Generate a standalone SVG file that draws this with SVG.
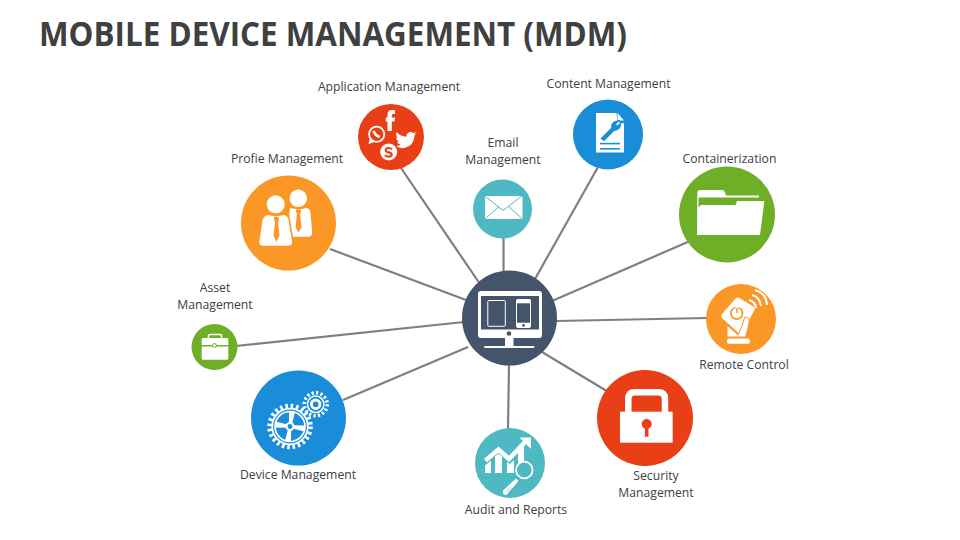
<svg xmlns="http://www.w3.org/2000/svg" width="960" height="540" viewBox="0 0 960 540">
<style>
.t{font-family:"Open Sans","Liberation Sans",sans-serif;font-size:12.2px;fill:#404040;text-anchor:middle}
.h{font-family:"Open Sans","Liberation Sans",sans-serif;font-size:34px;font-weight:700;fill:#404040}
.w{fill:#fff}
.ws{fill:none;stroke:#fff}
.c line{stroke:#7f7f7f;stroke-width:2.2}
</style>
<rect width="960" height="540" fill="#fff"/>
<text class="h" x="39" y="46" textLength="588" lengthAdjust="spacingAndGlyphs">MOBILE DEVICE MANAGEMENT (MDM)</text>
<g class="c" id="connectors">
<line x1="401" y1="168" x2="480" y2="284"/>
<line x1="598" y1="167" x2="535" y2="279"/>
<line x1="503.500" y1="237" x2="503.500" y2="272"/>
<line x1="690" y1="241" x2="552" y2="301"/>
<line x1="330" y1="249" x2="466" y2="300"/>
<line x1="236" y1="346" x2="464" y2="322"/>
<line x1="343" y1="400" x2="468" y2="347"/>
<line x1="508" y1="429" x2="509" y2="364"/>
<line x1="610" y1="393" x2="542" y2="352"/>
<line x1="707" y1="318" x2="556" y2="321"/>
</g>

<g id="center">
<circle cx="509.500" cy="318" r="47.500" fill="#44546a"/>
<path class="w" fill-rule="evenodd" d="M481 291h58q3 0 3 3v41q0 3-3 3h-58q-3 0-3-3v-41q0-3 3-3zM481 296v33.500h58v-33.500z"/>
<rect class="w" x="505" y="337" width="8.500" height="10"/>
<rect class="w" x="484.300" y="346" width="50" height="2"/>
<circle cx="509" cy="333.500" r="2.300" fill="#44546a"/>
<rect x="487.800" y="300.500" width="17.500" height="25.800" rx="1" fill="none" stroke="#fff" stroke-width="1"/>
<rect class="w" x="516" y="299" width="15" height="29" rx="2"/>
<rect x="517" y="303.300" width="13" height="19.400" fill="#44546a"/>
<circle cx="523.500" cy="325.400" r="1.400" fill="#44546a"/>
</g>

<g id="application-management">
<circle cx="391" cy="137" r="33" fill="#e83f16"/>
<path class="w" d="M387.500 131V121.500H385.700V117.500H387.500V114.500Q387.500 110 392 110H395V114H393Q391.800 114 391.800 115.500V117.500H395L394.500 121.500H391.800V131z"/>
<path class="w" d="M417 133.500l-3 1.200 2-2.800-3 1.200q-2.500-1.800-4.800-.4-2.200 1.400-1.700 4-5.500-.3-10-4.500-1.300 3.400 1.500 6l-2-.6q.2 2.900 3 4l-2 .1q1 2.500 3.800 2.900-2.400 1.800-4.800 1.400 4 3 9 1.800 9-2.200 9.600-12.600z"/>
<circle cx="376.700" cy="134.300" r="7.600" fill="none" stroke="#fff" stroke-width="1.800"/>
<path class="w" d="M368.500 144l1.500-6 4 4.300z"/>
<path class="ws" stroke-width="2.600" d="M373.800 130.800q.4 4 6 6.200"/>
<circle class="w" cx="388.700" cy="152" r="8.500"/>
<path d="M392 149.300q-1.500-1.500-3.500-1.300-3 .3-2.800 2.300.2 1.600 3 2 3 .5 3 2.300 0 2-3 2.100-2.500 0-3.800-1.600" fill="none" stroke="#e83f16" stroke-width="2.200"/>
</g>

<g id="content-management">
<circle cx="608" cy="134.500" r="35" fill="#1a8dd8"/>
<path class="w" d="M596 113h20.500l.5 4.500q.2 5.500 5 5.800h2v29.200h-28z"/>
<path class="w" d="M617.500 113l6.500 7.500h-4.500q-2 0-2-2z"/>
<path d="M601.500 138.500l10.500-10.500q-.8-5 4-6.500l2-.4-3 3.200 2 2.300 3.300-2.800q.2 5.800-6.800 6.600l-9.500 9.800z" fill="#1a8dd8" stroke="#1a8dd8" stroke-width="1.500"/>
<rect x="600" y="142.800" width="20" height="1.600" fill="#1a8dd8"/>
<rect x="600" y="148" width="20" height="1.600" fill="#1a8dd8"/>
</g>

<g id="email-management">
<circle cx="502.500" cy="209" r="29.500" fill="#4fb9c3"/>
<rect class="w" x="485" y="196" width="37.500" height="23" rx="1"/>
<path d="M485.500 196.500l17.500 14 19-14.500M485.500 218.500l13.500-12M522 218.500l-13.500-12" fill="none" stroke="#4fb9c3" stroke-width="1"/>
</g>

<g id="containerization">
<circle cx="727" cy="214.500" r="48" fill="#6fae27"/>
<path class="w" d="M697.300 193q0-3 3-3h22q2 0 3 3l.5 2.500h33v5.500h5.500L760 235H697z"/>
<path d="M698.500 197.500H759V201H737l-1.500 4H701l-2.500 2.500z" fill="#6fae27"/>
</g>

<g id="profile-management">
<circle cx="288.500" cy="223" r="47.500" fill="#fb9726"/>
<circle class="w" cx="298.300" cy="198.300" r="8.700"/>
<path class="w" d="M290 208l8.300 1.500 8.700-1.500q3 1 3.500 5l1.700 19q0 4.500-3.500 4.700h-18q-4 0-3-3z"/>
<path d="M296 209.500h4.500l.5 2-1 2 1.500 14-3 5-3-5 1.500-14-1-2z" fill="#fb9726"/>
<circle cx="275.700" cy="204.300" r="11" fill="#fb9726"/>
<circle class="w" cx="275.700" cy="204.300" r="9"/>
<path d="M268 214l8 2 9-2q4.500 1 5 5l3.500 22q.5 5-4 5.500l-27 .2q-4.500-.5-3.500-6l3-21q.8-4.500 6-5.700z" fill="#fb9726"/>
<path class="w" d="M268 215l8 1.500 8-1.500q4 1 4.500 4.500l3.500 22q.3 4-3.500 4.300h-26q-3.800-.3-3-5l3-20.500q.7-4 5.500-5.300z"/>
<path d="M274 217h4.500l.5 2.500-1 2.500 1.500 13.500-3 6.500-3-6.500 1.500-13.500-1-2.500z" fill="#fb9726"/>
</g>

<g id="asset-management">
<circle cx="214.500" cy="347" r="23" fill="#6fae27"/>
<path class="ws" stroke-width="1.500" d="M208.500 338v-2.500q0-1 1.500-1h10q1.500 0 1.500 1v2.500"/>
<path class="w" d="M201.700 339.500q0-1.500 1.500-1.500h23.600q1.500 0 1.500 1.500v5.500h-26.600z"/>
<path class="w" d="M201.700 346.500h26.600v11.700q0 1.500-1.500 1.500h-23.600q-1.500 0-1.500-1.500z"/>
<circle cx="214.500" cy="345.500" r="1.900" fill="#fff" stroke="#6fae27" stroke-width="1"/>
</g>

<g id="device-management">
<circle cx="298.500" cy="418" r="47.500" fill="#1a8dd8"/>
<circle cx="290" cy="426.500" r="20.500" fill="none" stroke="#fff" stroke-width="4.500" stroke-dasharray="2.600 2.768"/>
<circle cx="290" cy="426.500" r="17.800" fill="none" stroke="#fff" stroke-width="1.800"/>
<circle cx="290" cy="426.500" r="15" fill="none" stroke="#fff" stroke-width="1.600"/>
<g class="w">
<path d="M-1.600-3L-3-15H3L1.600-3z" transform="translate(290 426.500) rotate(8)"/>
<path d="M-1.600-3L-3-15H3L1.600-3z" transform="translate(290 426.500) rotate(98)"/>
<path d="M-1.600-3L-3-15H3L1.600-3z" transform="translate(290 426.500) rotate(188)"/>
<path d="M-1.600-3L-3-15H3L1.600-3z" transform="translate(290 426.500) rotate(278)"/>
</g>
<circle class="w" cx="290" cy="426.500" r="4.500"/>
<circle cx="290" cy="426.500" r="2.400" fill="#1a8dd8"/>
<circle cx="315.700" cy="404.300" r="11.500" fill="none" stroke="#fff" stroke-width="3.500" stroke-dasharray="2.200 2.316"/>
<circle cx="315.700" cy="404.300" r="9" fill="#fff"/>
<circle cx="315.700" cy="404.300" r="7.500" fill="#1a8dd8"/>
<circle cx="315.700" cy="404.300" r="4.300" fill="none" stroke="#fff" stroke-width="2.800"/>
</g>

<g id="audit-and-reports">
<circle cx="510" cy="463" r="35" fill="#4fb9c3"/>
<path fill="none" stroke="#fff" stroke-width="4.500" d="M485.500 460.500L498.500 449.500L509 459L525 442"/>
<path class="w" d="M519.500 437.500H531V449z"/>
<path class="w" d="M485 465.500l6-5V473h-6zM495 456.500l3.500-3 3.500 3V473h-7zM507 462l3 2 4-4V473h-7zM518 452l6-6.500V470h-6z"/>
<circle cx="524.300" cy="470" r="8.300" fill="#4fb9c3" stroke="#fff" stroke-width="1.800"/>
<path class="w" d="M516 478.500l2.500 2.500-11 13q-2.500 1.800-4 0t0-4z"/>
<path d="M506 492l5-5.500M508 493l4.500-5" stroke="#4fb9c3" stroke-width=".6"/>
</g>

<g id="security-management">
<circle cx="645" cy="418" r="48" fill="#e83f16"/>
<path class="ws" stroke-width="6.500" d="M628.300 413v-14q0-6.700 6.700-6.700h23.300q6.700 0 6.700 6.700v14"/>
<rect class="w" x="620" y="411.700" width="52.700" height="31"/>
<circle cx="646.700" cy="424" r="5" fill="#e83f16"/>
<rect x="644.900" y="426" width="3.600" height="10.700" fill="#e83f16"/>
</g>

<g id="remote-control">
<circle cx="741" cy="319" r="35" fill="#fb9726"/>
<path class="w" d="M722 314L736 298q2-1 3.500 0L754 307q1.500 1 .5 3L742 333q-1 2-3 .5L722 318q-1.500-2 0-4z"/>
<circle cx="736.700" cy="313.300" r="5.800" fill="none" stroke="#fb9726" stroke-width="1.700"/>
<path d="M737 306.500v6" stroke="#fff" stroke-width="3"/>
<path d="M737 308v5" stroke="#fb9726" stroke-width="1.500"/>
<path class="w" d="M727 325L738 335L742 326L745 316.500L749.500 319L748 328L745.500 337H727z" stroke="#fb9726" stroke-width="1"/>
<rect class="w" x="727" y="338.500" width="23" height="5.300" rx="2.600"/>
<path class="ws" stroke-width="2" d="M749 300q6 1.500 7 8M752 295q8 2 9 11M755 290q11 3 12 15"/>
</g>

<text class="t" x="389" y="91">Application Management</text>
<text class="t" x="608.500" y="88">Content Management</text>
<text class="t" x="503" y="147">Email</text>
<text class="t" x="503" y="164">Management</text>
<text class="t" x="729.500" y="163">Containerization</text>
<text class="t" x="287" y="163">Profie Management</text>
<text class="t" x="215" y="292">Asset</text>
<text class="t" x="215" y="309">Management</text>
<text class="t" x="744" y="369">Remote Control</text>
<text class="t" x="298" y="479">Device Management</text>
<text class="t" x="516" y="514">Audit and Reports</text>
<text class="t" x="656" y="480">Security</text>
<text class="t" x="656" y="497">Management</text>
</svg>
